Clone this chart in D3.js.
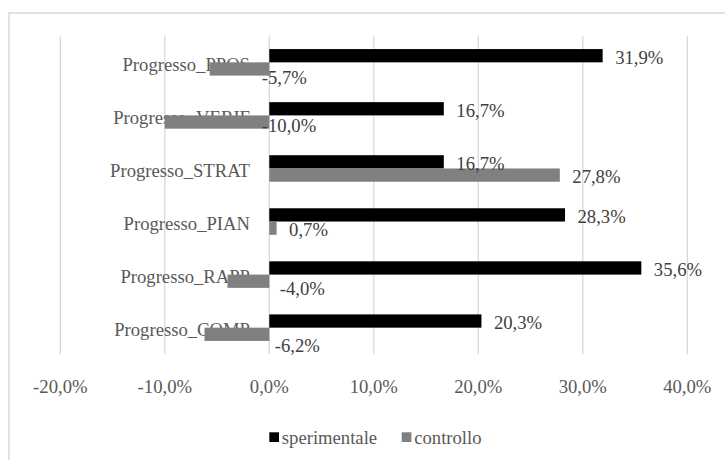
<!DOCTYPE html>
<html>
<head>
<meta charset="utf-8">
<script src="https://cdnjs.cloudflare.com/ajax/libs/d3/7.8.5/d3.min.js"></script>
<style>
  body { margin: 0; background: #fff; }
</style>
</head>
<body>
<div id="container"></div>
<script>

// Data
var categories = ["Progresso_PPOS", "Progresso_VERIF", "Progresso_STRAT", "Progresso_PIAN", "Progresso_RAPP", "Progresso_COMP"];
var seriesNames = ["sperimentale", "controllo"];
var sperimentale = [31.9, 16.7, 16.7, 28.3, 35.6, 20.3];
var controllo = [-5.7, -10.0, 27.8, 0.7, -4.0, -6.2];
var ticks = [-20, -10, 0, 10, 20, 30, 40];

// Manual nudges of the controllo labels (as moved by hand in the original)
var controlloNudgeX = [-20, -20, 0, 0, -2, -7];
var controlloNudgeY = [7, 1.5, 0, 0, 5.5, 9];

var colors = {sperimentale: "#000000", controllo: "#808080"};
var font = "'Liberation Serif', 'Noto Serif', Tinos, 'Nimbus Roman', 'Nimbus Roman No9 L', FreeSerif, Times, 'Times New Roman', 'DejaVu Serif', serif";

// Set width and height
var width = 725,
    height = 460;

var svg = d3.select("#container")
            .append("svg")
              .attr("width", width)
              .attr("height", height)
              .style("font-family", font);

// Chart border
svg.append("rect")
    .attr("x", 9)
    .attr("y", 13)
    .attr("width", 730)
    .attr("height", 460)
    .attr("fill", "none")
    .attr("stroke", "#d9d9d9")
    .attr("stroke-width", 1.5);

// Scales
var x = d3.scaleLinear()
          .domain([-20, 40])
          .range([60.3, 687.3]);

var y0 = d3.scaleBand()
           .domain(categories)
           .range([35.8, 354.2])
           .padding(0);

var y1 = d3.scaleBand()
           .domain(seriesNames)
           .range([0, y0.bandwidth()])
           .paddingInner(0)
           .paddingOuter(1);

var fmt = function(v) { return d3.format(".1f")(v).replace(".", ",").replace("\u2212", "-") + "%"; };

// Gridlines
svg.append("g")
    .selectAll("line")
    .data(ticks)
    .enter()
    .append("line")
      .attr("x1", function(d) { return x(d); })
      .attr("x2", function(d) { return x(d); })
      .attr("y1", y0.range()[0])
      .attr("y2", y0.range()[1])
      .attr("stroke", "#d9d9d9")
      .attr("stroke-width", 1.3);

// X axis tick labels
svg.append("g")
    .selectAll("text")
    .data(ticks)
    .enter()
    .append("text")
      .attr("x", function(d) { return x(d); })
      .attr("y", 392.5)
      .attr("text-anchor", "middle")
      .attr("fill", "#595959")
      .style("font-size", "18.67px")
      .text(function(d) { return fmt(d); });

// Category labels
svg.append("g")
    .selectAll("text")
    .data(categories)
    .enter()
    .append("text")
      .attr("x", 250)
      .attr("y", function(d) { return y0(d) + y0.bandwidth() / 2; })
      .attr("dy", "0.44em")
      .attr("text-anchor", "end")
      .attr("fill", "#595959")
      .style("font-size", "18.67px")
      .text(function(d) { return d; });

// Build rows for the bars
var rows = [];
for (var i = 0; i < categories.length; i++) {
  rows.push({cat: categories[i], series: "sperimentale", value: sperimentale[i], nx: 0, ny: 0});
  rows.push({cat: categories[i], series: "controllo", value: controllo[i], nx: controlloNudgeX[i], ny: controlloNudgeY[i]});
}

// Bars
svg.append("g")
    .selectAll("rect")
    .data(rows)
    .enter()
    .append("rect")
      .attr("x", function(d) { return x(Math.min(0, d.value)); })
      .attr("y", function(d) { return y0(d.cat) + y1(d.series); })
      .attr("width", function(d) { return Math.abs(x(d.value) - x(0)); })
      .attr("height", y1.bandwidth())
      .attr("fill", function(d) { return colors[d.series]; });

// Data labels
svg.append("g")
    .selectAll("text")
    .data(rows)
    .enter()
    .append("text")
      .attr("x", function(d) { return x(Math.max(0, d.value)) + 12.5 + d.nx; })
      .attr("y", function(d) { return y0(d.cat) + y1(d.series) + y1.bandwidth() / 2 + d.ny; })
      .attr("dy", "0.44em")
      .attr("fill", "#404040")
      .style("font-size", "18.67px")
      .text(function(d) { return fmt(d.value); });

// Legend
var legend = svg.append("g")
                .selectAll("g")
                .data(seriesNames)
                .enter()
                .append("g")
                  .attr("transform", function(d, i) { return "translate(" + [269.3, 401.7][i] + ",0)"; });

legend.append("rect")
    .attr("x", 0)
    .attr("y", 432.3)
    .attr("width", 9.7)
    .attr("height", 9.7)
    .attr("fill", function(d) { return colors[d]; });

legend.append("text")
    .attr("x", 12.5)
    .attr("y", 444.3)
    .attr("fill", "#595959")
    .style("font-size", "18.67px")
    .text(function(d) { return d; });

</script>
</body>
</html>
